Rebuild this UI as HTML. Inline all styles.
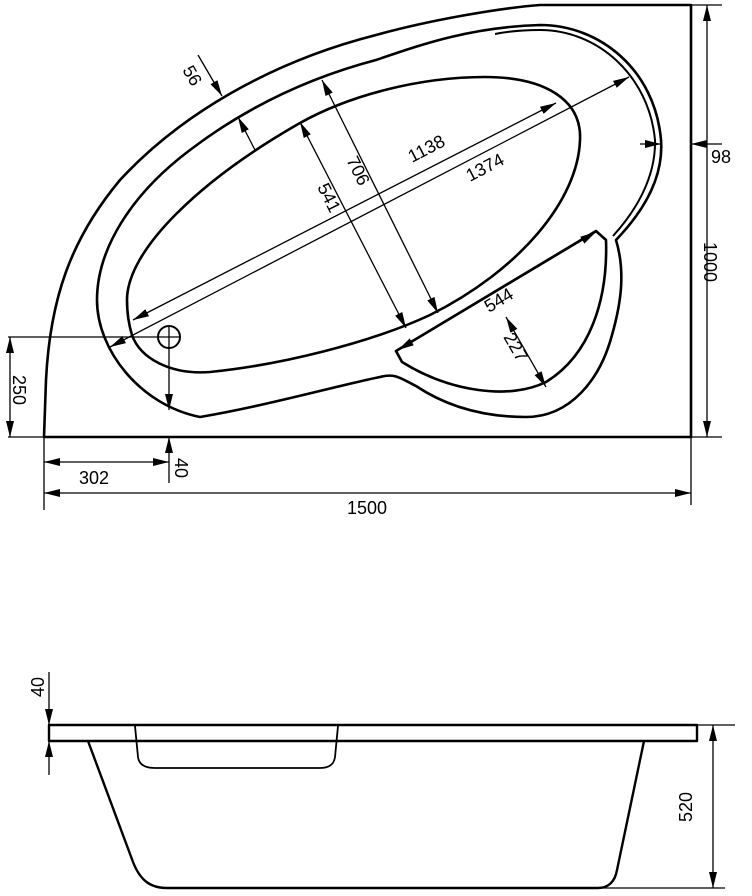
<!DOCTYPE html>
<html><head><meta charset="utf-8"><style>
html,body{margin:0;padding:0;background:#fff}
svg{display:block}
text{font-family:"Liberation Sans",Arial,sans-serif;font-size:18px;fill:#000}
</style></head><body>
<svg width="752" height="896" viewBox="0 0 752 896" xmlns="http://www.w3.org/2000/svg">
<defs>
<marker id="a" viewBox="0 0 16 8" refX="16" refY="4" markerWidth="16" markerHeight="8" markerUnits="userSpaceOnUse" orient="auto-start-reverse">
<path d="M0,0 L16,4 L0,8 z" fill="#000"/></marker>
</defs>
<g fill="none" stroke="#000" stroke-width="2.6" stroke-linejoin="round">
<path d="M44,437 L46,380 C50,300 70,240 120,180 C180,115 270,62 376,35 C430,20 500,8 540,5 L691,5 L691,437 Z"/>
<path d="M616,240 C640,215 664,180 661,140 C655,70 600,25 540,25 C470,27 420,45 376,60 C300,80 240,112 190,150 C130,195 97,250 97,300 C97,350 140,405 200,417 C270,405 340,385 380,377 C395,373 400,378 416,386 C440,402 475,417 526,417 C570,417 600,380 612,335 C622,300 625,270 616,240 Z"/>
<path d="M613,236 C635,212 656,178 655,140 C649,76 598,30 540,30 C520,30 505,32 495,34" stroke-width="2"/>
<path d="M127,300 C127,250 200,180 300,123 C350,95 420,77 485,77 C545,77 582,100 580,140 C578,200 520,270 430,315 C370,343 280,365 210,372 C170,375 140,358 132,335 C128,322 127,310 127,300 Z"/>
<path d="M396,351 L596,231 L606,240 C608,300 590,355 546,382 C510,400 450,392 402,362 Z"/>
</g>
<circle cx="169" cy="337" r="11" fill="none" stroke="#000" stroke-width="2"/>
<g fill="none" stroke="#000" stroke-width="1.3">
<line x1="198" y1="55" x2="222" y2="96" marker-end="url(#a)"/>
<line x1="255" y1="150" x2="238" y2="117" marker-end="url(#a)"/>
<line x1="322" y1="80" x2="438" y2="313" marker-start="url(#a)" marker-end="url(#a)"/>
<line x1="300" y1="122" x2="406" y2="328" marker-start="url(#a)" marker-end="url(#a)"/>
<line x1="133" y1="320" x2="556" y2="103" marker-start="url(#a)" marker-end="url(#a)"/>
<line x1="110" y1="347" x2="629" y2="77" marker-start="url(#a)" marker-end="url(#a)"/>
<line x1="398" y1="350" x2="596" y2="232" marker-start="url(#a)" marker-end="url(#a)"/>
<line x1="506" y1="317" x2="546" y2="387" marker-start="url(#a)" marker-end="url(#a)"/>
<line x1="640" y1="144" x2="661" y2="144" marker-end="url(#a)"/>
<line x1="722" y1="144" x2="691" y2="144" marker-end="url(#a)"/>
<line x1="691" y1="5" x2="722" y2="5"/>
<line x1="691" y1="437" x2="722" y2="437"/>
<line x1="707" y1="5" x2="707" y2="437" marker-start="url(#a)" marker-end="url(#a)"/>
<line x1="8" y1="337" x2="158" y2="337"/>
<line x1="8" y1="437" x2="44" y2="437"/>
<line x1="10" y1="337" x2="10" y2="437" marker-start="url(#a)" marker-end="url(#a)"/>
<line x1="158" y1="337" x2="180" y2="337"/>
<line x1="169" y1="325" x2="169" y2="349"/>
<line x1="169" y1="349" x2="169" y2="410" marker-end="url(#a)"/>
<line x1="169" y1="483" x2="169" y2="437" marker-end="url(#a)"/>
<line x1="44" y1="437" x2="44" y2="510"/>
<line x1="691" y1="437" x2="691" y2="505"/>
<line x1="44" y1="462" x2="169" y2="462" marker-start="url(#a)" marker-end="url(#a)"/>
<line x1="44" y1="493" x2="691" y2="493" marker-start="url(#a)" marker-end="url(#a)"/>
</g>
<text transform="translate(182,70) rotate(60)">56</text>
<text transform="translate(346,160) rotate(63.5)">706</text>
<text transform="translate(317,187) rotate(63.5)">541</text>
<text transform="translate(412,163) rotate(-27.5)">1138</text>
<text transform="translate(470,182) rotate(-27.5)">1374</text>
<text transform="translate(489,313) rotate(-31)">544</text>
<text transform="translate(503,337) rotate(60)">227</text>
<text x="711" y="163">98</text>
<text transform="translate(704,242) rotate(90)">1000</text>
<text transform="translate(13,375) rotate(90)">250</text>
<text transform="translate(175,458) rotate(90)">40</text>
<text x="79" y="484">302</text>
<text x="347" y="514">1500</text>
<g fill="none" stroke="#000" stroke-width="2.4" stroke-linejoin="round">
<rect x="49" y="725" width="648" height="16"/>
<path d="M88,741 L133,862 C140,880 150,888 167,888 L598,888 C608,888 615,882 617,870 L644,741"/>
<path d="M135,726 L138,757 C139,765 146,768 155,768 L320,768 C330,768 334,764 335,757 L338,726" stroke-width="1.8"/>
</g>
<g fill="none" stroke="#000" stroke-width="1.3">
<line x1="697" y1="725" x2="735" y2="725"/>
<line x1="600" y1="888" x2="725" y2="888"/>
<line x1="713" y1="725" x2="713" y2="888" marker-start="url(#a)" marker-end="url(#a)"/>
<line x1="49" y1="672" x2="49" y2="725" marker-end="url(#a)"/>
<line x1="49" y1="775" x2="49" y2="741" marker-end="url(#a)"/>
</g>
<text transform="translate(44,697) rotate(-90)">40</text>
<text transform="translate(692,822) rotate(-90)">520</text>
</svg>
</body></html>
